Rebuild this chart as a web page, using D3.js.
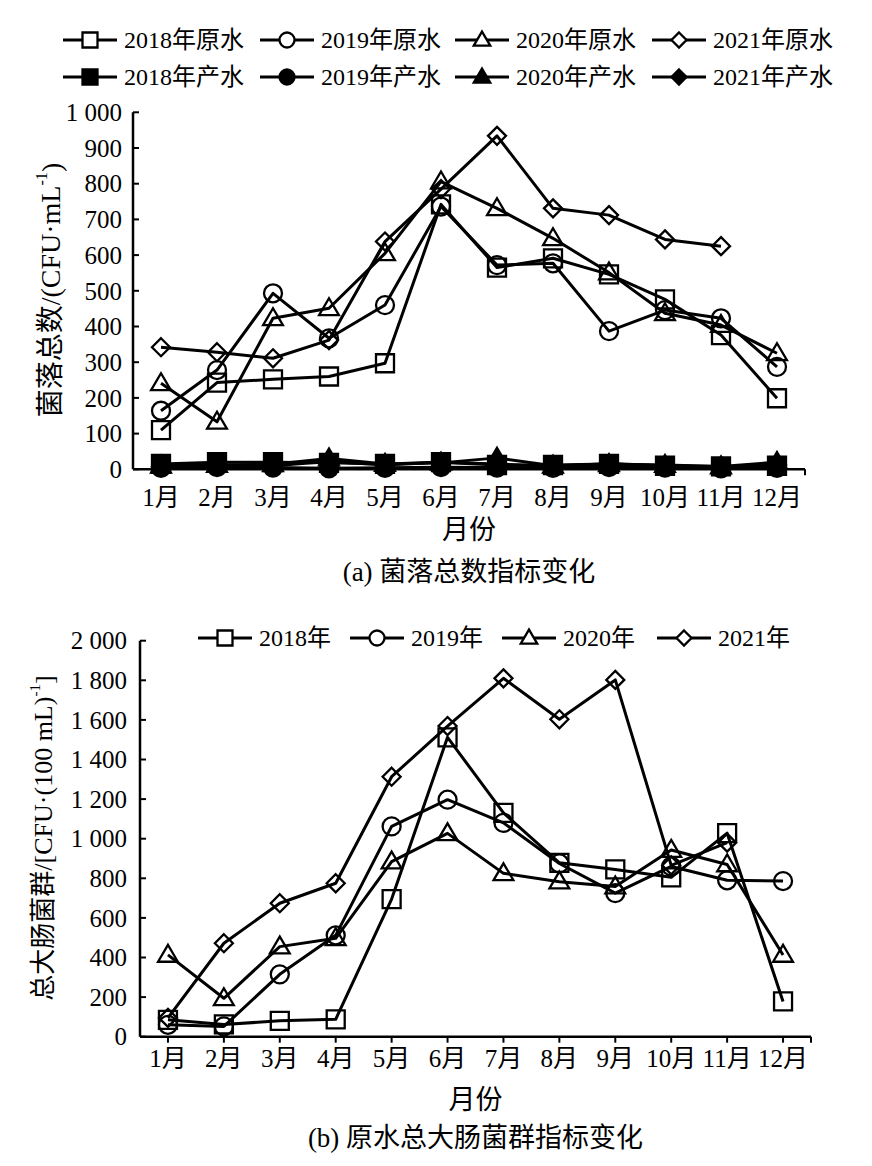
<!DOCTYPE html>
<html>
<head>
<meta charset="utf-8">
<script src="https://cdn.jsdelivr.net/npm/d3@7"></script>
<style>
  html, body { margin: 0; padding: 0; background: #fff; }
  svg { display: block; }
  text { font-family: "Liberation Serif", "Noto Sans CJK SC", serif; fill: #000; }
</style>
</head>
<body>
<svg id="chart" width="872" height="1166"></svg>
<script>
// ---------- data ----------
const months = ["1月","2月","3月","4月","5月","6月","7月","8月","9月","10月","11月","12月"];

// (a) total plate count, CFU/mL
const tpcTicks = [0,100,200,300,400,500,600,700,800,900,1000];
const raw2018 = [110,243,252,260,297,742,565,591,546,476,376,199];
const raw2019 = [164,278,493,367,460,736,572,577,387,446,423,287];
const raw2020 = [241,133,423,451,605,806,731,647,551,437,404,325];
const raw2021 = [342,328,311,362,638,785,934,731,712,644,625,null];
const prod2018 = [15,20,20,18,15,20,12,12,15,10,8,10];
const prod2019 = [4,6,5,3,4,6,5,4,6,5,3,4];
const prod2020 = [10,12,14,30,15,18,32,10,14,12,8,20];
const prod2021 = [8,10,10,22,12,20,15,8,16,10,6,12];

// (b) total coliforms, CFU/100 mL
const colTicks = [0,200,400,600,800,1000,1200,1400,1600,1800,2000];
const col2018 = [85,62,80,88,695,1512,1130,878,845,805,1028,178];
const col2019 = [60,52,315,512,1062,1197,1080,875,725,860,790,786];
const col2020 = [413,194,455,497,884,1027,825,783,758,943,870,413];
const col2021 = [95,472,674,775,1313,1569,1810,1603,1802,865,980,null];

const legendA = ["2018年原水","2019年原水","2020年原水","2021年原水","2018年产水","2019年产水","2020年产水","2021年产水"];
const legendB = ["2018年","2019年","2020年","2021年"];
const shapes = ["square","circle","triangle","diamond"];

// ---------- helpers ----------
function fmt(v){ return v >= 1000 ? Math.floor(v/1000) + " " + String(v%1000).padStart(3,"0") : String(v); }

function markerPath(type, s){
  const h = s/2;
  if (type === "square") return `M${-h},${-h}H${h}V${h}H${-h}Z`;
  if (type === "circle") return `M${h},0A${h},${h} 0 1,1 ${-h},0A${h},${h} 0 1,1 ${h},0Z`;
  if (type === "triangle") { const t = s*0.9; return `M0,${-t*0.62}L${s*0.55},${t*0.42}L${-s*0.55},${t*0.42}Z`; }
  if (type === "diamond") return `M0,${-h}L${h},0L0,${h}L${-h},0Z`;
}

const svg = d3.select("#chart");

function drawChart(cfg){
  const g = svg.append("g");
  const x = d3.scaleBand().domain(months).range([cfg.x0, cfg.x1]);
  const y = d3.scaleLinear().domain([0, cfg.ymax]).range([cfg.y0, cfg.y1]);
  const cx = m => x(m) + x.bandwidth()/2;

  // y axis (inner ticks)
  g.append("line").attr("x1", cfg.x0).attr("x2", cfg.x0).attr("y1", y(0)).attr("y2", y(cfg.ymax))
    .attr("stroke","#000").attr("stroke-width",2.5);
  cfg.ticks.forEach(t => {
    g.append("line").attr("x1", cfg.x0).attr("x2", cfg.x0+6).attr("y1", y(t)).attr("y2", y(t))
      .attr("stroke","#000").attr("stroke-width",2);
    g.append("text").attr("x", cfg.labelX).attr("y", y(t)).attr("dy","0.35em")
      .attr("text-anchor","end").attr("font-size", 25).text(fmt(t));
  });
  // x axis
  g.append("line").attr("x1", cfg.x0).attr("x2", cfg.x1).attr("y1", y(0)).attr("y2", y(0))
    .attr("stroke","#000").attr("stroke-width",2.5);
  months.forEach(m => {
    g.append("line").attr("x1", cx(m)).attr("x2", cx(m)).attr("y1", y(0)).attr("y2", y(0)+6)
      .attr("stroke","#000").attr("stroke-width",2);
    g.append("text").attr("x", cx(m)).attr("y", cfg.monthY).attr("dy","0.35em")
      .attr("text-anchor","middle").attr("font-size", 25).text(m);
  });
  g.append("line").attr("x1", cfg.x1).attr("x2", cfg.x1).attr("y1", y(0)).attr("y2", y(0)+6)
    .attr("stroke","#000").attr("stroke-width",2);

  // titles
  g.append("text").attr("x", (cfg.x0+cfg.x1)/2).attr("y", cfg.xTitleY).attr("dy","0.35em")
    .attr("text-anchor","middle").attr("font-size", 27).text("月份");
  g.append("text").attr("x", (cfg.x0+cfg.x1)/2).attr("y", cfg.captionY).attr("dy","0.35em")
    .attr("text-anchor","middle").attr("font-size", 27).text(cfg.caption);
  const yt = g.append("text").attr("transform", `translate(${cfg.yTitleX},${cfg.yTitleY}) rotate(-90)`)
    .attr("text-anchor","middle").attr("dy","0.35em").attr("font-size", cfg.yTitleSize);
  yt.append("tspan").text(cfg.yTitle);
  yt.append("tspan").attr("font-size", cfg.yTitleSize*0.58).attr("dy","-0.8em").text("-1");
  if (cfg.yTitleEnd) yt.append("tspan").attr("dy","0.5em").text(cfg.yTitleEnd);

  // series
  const line = d3.line().defined(d => d.v != null).x(d => cx(d.m)).y(d => y(d.v));
  cfg.series.forEach(s => {
    const pts = s.values.map((v,i) => ({m: months[i], v}));
    g.append("path").attr("d", line(pts)).attr("fill","none").attr("stroke","#000")
      .attr("stroke-width", 3).attr("stroke-linejoin","round");
    pts.filter(d => d.v != null).forEach(d => {
      g.append("path").attr("d", markerPath(s.shape, s.size))
        .attr("transform", `translate(${cx(d.m)},${y(d.v)})`)
        .attr("fill", s.filled ? "#000" : "none").attr("stroke","#000").attr("stroke-width",2.3);
    });
  });

  // legend
  cfg.legend.forEach(l => {
    const lg = g.append("g");
    lg.append("line").attr("x1", l.x).attr("x2", l.x+54).attr("y1", l.y).attr("y2", l.y)
      .attr("stroke","#000").attr("stroke-width",3);
    lg.append("path").attr("d", markerPath(l.shape, 15)).attr("transform", `translate(${l.x+27},${l.y})`)
      .attr("fill", l.filled ? "#000" : "#fff").attr("stroke","#000").attr("stroke-width",2.3);
    lg.append("text").attr("x", l.x+61).attr("y", l.y).attr("dy","0.35em")
      .attr("font-size", 24).text(l.label);
  });
}

// ---------- chart (a) ----------
const rawA = [raw2018, raw2019, raw2020, raw2021];
const prodA = [prod2018, prod2019, prod2020, prod2021];
const legXA = [63, 260, 455, 652];
drawChart({
  x0: 133, x1: 805, y0: 469.3, y1: 112.3, ymax: 1000, ticks: tpcTicks, labelX: 122,
  monthY: 497, xTitleY: 530, captionY: 572, caption: "(a) 菌落总数指标变化",
  yTitle: "菌落总数/(CFU·mL", yTitleEnd: ")", yTitleX: 50, yTitleY: 290, yTitleSize: 28,
  series: [
    ...rawA.map((v,i) => ({values: v, shape: shapes[i], filled: false, size: 18})),
    ...prodA.map((v,i) => ({values: v, shape: shapes[i], filled: true, size: 18}))
  ],
  legend: legendA.map((lab,i) => ({label: lab, shape: shapes[i%4], filled: i >= 4,
    x: legXA[i%4], y: i < 4 ? 40 : 77}))
});

// ---------- chart (b) ----------
const colB = [col2018, col2019, col2020, col2021];
const legXB = [198, 350, 502, 657];
drawChart({
  x0: 140, x1: 811, y0: 1036.7, y1: 640.7, ymax: 2000, ticks: colTicks, labelX: 127,
  monthY: 1058, xTitleY: 1100, captionY: 1138, caption: "(b) 原水总大肠菌群指标变化",
  yTitle: "总大肠菌群/[CFU·(100 mL)", yTitleEnd: "]", yTitleX: 43, yTitleY: 838, yTitleSize: 26,
  series: colB.map((v,i) => ({values: v, shape: shapes[i], filled: false, size: 18})),
  legend: legendB.map((lab,i) => ({label: lab, shape: shapes[i], filled: false, x: legXB[i], y: 638}))
});
</script>
</body>
</html>
